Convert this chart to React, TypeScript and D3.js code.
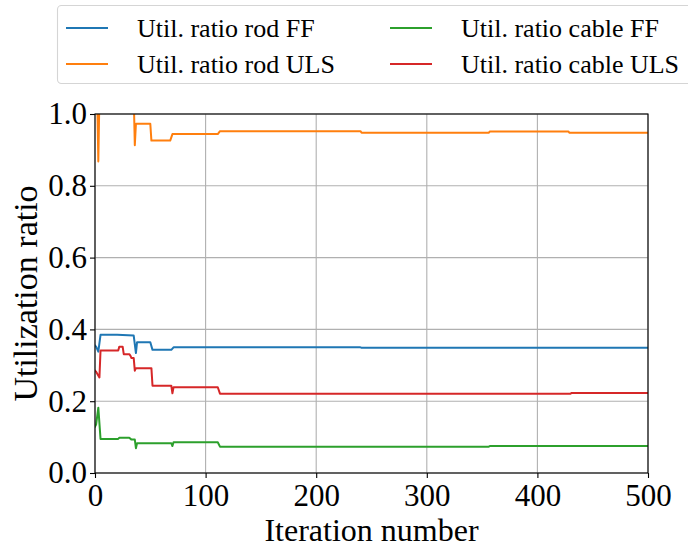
import React, { useEffect, useRef } from "react";
import * as d3 from "d3";

// ---- Data ----
const rodFFIter = [0, 1, 3, 5, 20, 35, 37, 38, 50, 52, 69, 71, 240, 241, 500];
const rodFFVal = [0.355, 0.352, 0.338, 0.385, 0.385, 0.383, 0.334, 0.364, 0.364, 0.343, 0.343, 0.35, 0.35, 0.349, 0.349];

const rodULSIter = [0, 2, 3, 4, 35, 36, 37, 50, 51, 68, 70, 111, 113, 240, 241, 356, 357, 428, 429, 500];
const rodULSVal = [1.05, 1.05, 0.868, 1.05, 1.05, 0.913, 0.973, 0.973, 0.926, 0.926, 0.944, 0.944, 0.952, 0.952, 0.948, 0.948, 0.951, 0.951, 0.948, 0.948];

const cableFFIter = [0, 1, 3, 5, 21, 22, 31, 33, 36, 37, 38, 69, 70, 71, 111, 113, 356, 357, 500];
const cableFFVal = [0.129, 0.135, 0.182, 0.095, 0.095, 0.098, 0.098, 0.093, 0.093, 0.069, 0.083, 0.083, 0.075, 0.0855, 0.0855, 0.0734, 0.0734, 0.075, 0.075];

const cableULSIter = [0, 1, 4, 5, 21, 22, 25, 26, 31, 32, 33, 35, 36, 37, 51, 52, 69, 70, 71, 111, 113, 430, 431, 500];
const cableULSVal = [0.285, 0.282, 0.266, 0.341, 0.341, 0.352, 0.352, 0.331, 0.331, 0.327, 0.32, 0.32, 0.285, 0.292, 0.292, 0.243, 0.243, 0.222, 0.239, 0.239, 0.221, 0.221, 0.223, 0.223];

const seriesLabels = [
  "Util. ratio rod FF",
  "Util. ratio rod ULS",
  "Util. ratio cable FF",
  "Util. ratio cable ULS",
];
const seriesColors = ["#1f77b4", "#ff7f0e", "#2ca02c", "#d62728"];
const xTicks = [0, 100, 200, 300, 400, 500];
const yTicks = [0, 0.2, 0.4, 0.6, 0.8, 1.0];
const xLabel = "Iteration number";
const yLabel = "Utilization ratio";

const FONT = "'Liberation Serif', 'Times New Roman', serif";

export default function App() {
  const ref = useRef<SVGSVGElement>(null);

  useEffect(() => {
    const svg = d3.select(ref.current);
    svg.selectAll("*").remove();

    const left = 95, right = 648, top = 114, bottom = 473;
    const x = d3.scaleLinear().domain([0, 500]).range([left, right]);
    const y = d3.scaleLinear().domain([0, 1]).range([bottom, top]);

    svg.append("rect").attr("width", 688).attr("height", 548).attr("fill", "white");

    svg.append("defs").append("clipPath").attr("id", "plotclip")
      .append("rect").attr("x", left).attr("y", top).attr("width", right - left).attr("height", bottom - top);

    // grid
    const grid = svg.append("g");
    xTicks.forEach((t) => {
      grid.append("line").attr("x1", x(t)).attr("x2", x(t)).attr("y1", top).attr("y2", bottom)
        .attr("stroke", "#b0b0b0").attr("stroke-width", 1.1);
    });
    yTicks.forEach((t) => {
      grid.append("line").attr("x1", left).attr("x2", right).attr("y1", y(t)).attr("y2", y(t))
        .attr("stroke", "#b0b0b0").attr("stroke-width", 1.1);
    });

    // series
    const series = [
      { it: rodFFIter, v: rodFFVal },
      { it: rodULSIter, v: rodULSVal },
      { it: cableFFIter, v: cableFFVal },
      { it: cableULSIter, v: cableULSVal },
    ];
    const line = d3.line<[number, number]>().x((d) => x(d[0])).y((d) => y(d[1]));
    const lg = svg.append("g").attr("clip-path", "url(#plotclip)");
    series.forEach((s, i) => {
      const pts: [number, number][] = s.it.map((t, j) => [t, s.v[j]]);
      lg.append("path").attr("d", line(pts)!).attr("fill", "none")
        .attr("stroke", seriesColors[i]).attr("stroke-width", 2)
        .attr("stroke-linejoin", "round").attr("stroke-linecap", "square");
    });

    // axes
    const xAxis = d3.axisBottom(x).tickValues(xTicks).tickSize(5).tickPadding(6)
      .tickFormat((d) => d3.format("d")(d as number));
    const yAxis = d3.axisLeft(y).tickValues(yTicks).tickSize(5).tickPadding(3)
      .tickFormat((d) => d3.format(".1f")(d as number));
    const gx = svg.append("g").attr("transform", `translate(0,${bottom})`).call(xAxis);
    const gy = svg.append("g").attr("transform", `translate(${left},0)`).call(yAxis);
    [gx, gy].forEach((g) => {
      g.select(".domain").remove();
      g.selectAll("line").attr("stroke", "#000").attr("stroke-width", 1.1);
      g.selectAll("text").attr("font-family", FONT).attr("font-size", 31).attr("fill", "#000");
    });

    // frame
    svg.append("rect").attr("x", left).attr("y", top).attr("width", right - left).attr("height", bottom - top)
      .attr("fill", "none").attr("stroke", "#000").attr("stroke-width", 1.1);

    // axis labels
    svg.append("text").attr("x", (left + right) / 2).attr("y", 541).attr("text-anchor", "middle")
      .attr("font-family", FONT).attr("font-size", 32).text(xLabel);
    svg.append("text").attr("transform", `translate(37,${(top + bottom) / 2}) rotate(-90)`)
      .attr("text-anchor", "middle").attr("font-family", FONT).attr("font-size", 34).text(yLabel);

    // legend
    const leg = svg.append("g");
    leg.append("rect").attr("x", 57.5).attr("y", 5.5).attr("width", 660).attr("height", 78).attr("rx", 4)
      .attr("fill", "white").attr("fill-opacity", 0.8).attr("stroke", "#d5d5d5").attr("stroke-width", 1.1);
    const colX = [66, 390];
    const rowY = [28, 64];
    seriesLabels.forEach((lab, i) => {
      const cx = colX[Math.floor(i / 2)];
      const cy = rowY[i % 2];
      leg.append("line").attr("x1", cx).attr("x2", cx + 42).attr("y1", cy).attr("y2", cy)
        .attr("stroke", seriesColors[i]).attr("stroke-width", 2);
      leg.append("text").attr("x", cx + 71).attr("y", cy + 9).attr("font-family", FONT)
        .attr("font-size", 26).text(lab);
    });
  }, []);

  return <svg ref={ref} width={688} height={548} style={{ position: "absolute", left: 0, top: 0 }} />;
}
